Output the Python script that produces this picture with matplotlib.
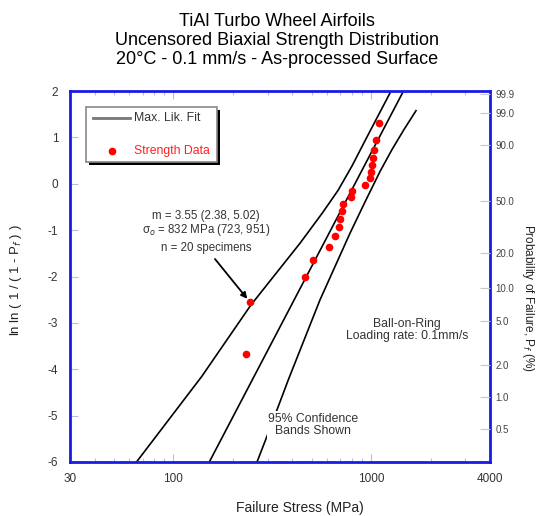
"""TiAl turbo wheel airfoils - Weibull plot of uncensored biaxial strength."""
import matplotlib
matplotlib.use('Agg')
import matplotlib.pyplot as plt
import numpy as np

plt.rcParams['font.family'] = ['Liberation Sans', 'DejaVu Sans']
plt.rcParams['axes.unicode_minus'] = False

BLUE = '#1a1ae6'
TICKBLUE = '#b4bcf2'
TXT = '#333333'

# strength data (MPa), ranked; plotted at (i - 0.5) / n
strength = [232, 244, 464, 511, 611, 658, 691, 697, 716, 724,
            792, 800, 933, 988, 997, 1006, 1025, 1037, 1058, 1094]

# maximum likelihood fit line (end points)
fit_x = [152, 1460]
fit_y = [-6.0, 2.0]

# 95% confidence bands
upper_x = [65.1, 139.1, 247.1, 437.4, 565.3, 681, 801.7, 951.4, 1247.8, 1262.7]
upper_y = [-6.0, -4.157, -2.612, -1.282, -0.640, -0.144, 0.384, 0.998, 1.957, 2.0]
lower_x = [265, 302, 381.6, 552, 783, 932.7, 1110.8, 1277.6, 1469, 1689]
lower_y = [-6.0, -5.377, -4.228, -2.504, -1.067, -0.392, 0.265, 0.739, 1.170, 1.575]

prob_ticks = [99.9, 99.0, 90.0, 50.0, 20.0, 10.0, 5.0, 2.0, 1.0, 0.5]

n = len(strength)
rank_p = (np.arange(1, n + 1) - 0.5) / n
rank_y = np.log(-np.log(1 - rank_p))

fig = plt.figure(figsize=(5.4, 5.16), dpi=100)
ax = fig.add_axes([70 / 540, 1 - 462 / 516, 420 / 540, 371 / 516])

ax.plot(fit_x, fit_y, color='black', lw=1.2)
ax.plot(upper_x, upper_y, color='black', lw=1.2)
ax.plot(lower_x, lower_y, color='black', lw=1.2)
ax.plot(strength, rank_y, 'o', color='#ff0000', ms=4.5, mec='#ff0000', zorder=5)

ax.set_xscale('log')
ax.set_xlim(30, 4000)
ax.set_ylim(-6, 2)
ax.set_xticks([30, 100, 1000, 4000])
ax.set_xticklabels(['30', '100', '1000', '4000'])
ax.set_xticks([40, 50, 60, 70, 80, 90, 200, 300, 400, 500, 600, 700, 800, 900,
               2000, 3000], minor=True)
ax.xaxis.set_minor_formatter(plt.NullFormatter())
ax.set_yticks(range(-6, 3))
ax.tick_params(which='both', direction='in', top=True, color=TICKBLUE,
               labelsize=8.5, labelcolor=TXT)
ax.tick_params(which='major', length=6, width=0.8)
ax.tick_params(which='minor', length=3, width=0.8)
ax.tick_params(axis='y', pad=8.5)
ax.tick_params(axis='x', pad=8)
for s in ax.spines.values():
    s.set_color(BLUE)
    s.set_linewidth(2)

ax2 = ax.twinx()
ax2.set_ylim(-6, 2)
p = np.array(prob_ticks) / 100
ax2.set_yticks(np.log(-np.log(1 - p)))
ax2.set_yticklabels([f'{v:.1f}' for v in prob_ticks])
ax2.tick_params(direction='in', length=7, color='#c8c8c8', labelsize=7,
                labelcolor='#444444', pad=4)
for s in ax2.spines.values():
    s.set_visible(False)

for i, line in enumerate(['TiAl Turbo Wheel Airfoils',
                          'Uncensored Biaxial Strength Distribution',
                          '20°C - 0.1 mm/s - As-processed Surface']):
    fig.text(277 / 540, 1 - (21 + 19.5 * i) / 516, line, ha='center', va='center', fontsize=13)

fig.text(300 / 540, 1 - 508 / 516, 'Failure Stress (MPa)', ha='center', va='center', fontsize=10, color='#222222')
fig.text(16 / 540, 1 - 280 / 516, 'ln ln ( 1 / ( 1 - P$_f$ ) )', ha='center', va='center',
         rotation=90, fontsize=9.5, color='#222222')
fig.text(528 / 540, 1 - 298 / 516, 'Probability of Failure, P$_f$ (%)', ha='center', va='center',
         rotation=-90, fontsize=8.5, color='#222222')

# legend box with shadow
fx = lambda px: px / 540
fy = lambda py: 1 - py / 516
shadow = plt.Rectangle((fx(89), fy(164.5)), fx(216.7) - fx(86), fy(106.7) - fy(161.7),
                       transform=fig.transFigure, facecolor='black', edgecolor='none', zorder=3)
box = plt.Rectangle((fx(86), fy(161.7)), fx(216.7) - fx(86), fy(106.7) - fy(161.7),
                    transform=fig.transFigure, facecolor='white', edgecolor='#888888', lw=1.2, zorder=4)
fig.patches.extend([shadow, box])
fig.add_artist(plt.Line2D([fx(93), fx(130)], [fy(118), fy(118)], color='#777777', lw=2, zorder=5))
fig.text(fx(134), fy(118), 'Max. Lik. Fit', va='center', fontsize=8.8, color=TXT, zorder=5)
fig.add_artist(plt.Line2D([fx(111.7)], [fy(151)], marker='o', color='#ff0000', ms=4.5, zorder=5))
fig.text(fx(134), fy(151), 'Strength Data', va='center', fontsize=8.8, color='#ff2020', zorder=5)

# annotations
fig.text(fx(206), fy(216), 'm = 3.55 (2.38, 5.02)', ha='center', va='center', fontsize=8.3, color=TXT)
fig.text(fx(206), fy(230), 'σ$_o$ = 832 MPa (723, 951)', ha='center', va='center', fontsize=8.3, color=TXT)
fig.text(fx(206), fy(248), 'n = 20 specimens', ha='center', va='center', fontsize=8.3, color=TXT)
ax.annotate('', xy=(strength[1], rank_y[1]), xycoords='data',
            xytext=(fx(215), fy(259)), textcoords='figure fraction',
            arrowprops=dict(arrowstyle='-|>', color='black', lw=1.3, mutation_scale=9,
                            shrinkA=0, shrinkB=3))
fig.text(fx(407), fy(324), 'Ball-on-Ring', ha='center', va='center', fontsize=8.8, color=TXT)
fig.text(fx(407), fy(336), 'Loading rate: 0.1mm/s', ha='center', va='center', fontsize=8.8, color=TXT)
ax.text(fx(313), fy(425), '95% Confidence\nBands Shown', transform=fig.transFigure,
        ha='center', va='center', fontsize=8.8, color=TXT, linespacing=1.05,
        bbox=dict(facecolor='white', edgecolor='none', pad=1), zorder=6)

fig.savefig('out.png', dpi=100, facecolor='white')
